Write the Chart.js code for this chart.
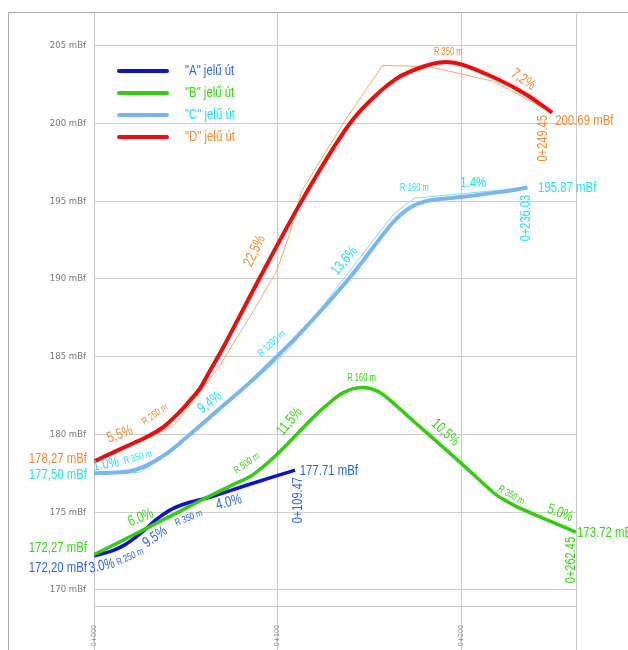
<!DOCTYPE html>
<html>
<head>
<meta charset="utf-8">
<script src="https://cdn.jsdelivr.net/npm/chart.js@4"></script>
<style>
    html, body { margin: 0; padding: 0; background: #fff; }
    #wrap { width: 628px; height: 650px; position: relative; }
</style>
</head>
<body>
<div id="wrap"><canvas id="profileChart"></canvas></div>
<script>
// stations (m) and elevations (mBf)
const stationsA = [0, 8.7, 16.8, 25, 34.2, 42.4, 52.2, 63, 84.8, 109.47];
const elevA = [172.20, 172.46, 172.90, 173.60, 174.55, 175.20, 175.64, 175.96, 176.80, 177.71];

const stationsB = [0, 30.4, 57.6, 76.6, 86.4, 99.5, 112, 119, 127.3, 136, 145.7, 154, 161.4, 171.7, 200, 217.9, 224.5, 231.5, 262.45];
const elevB = [172.27, 174.07, 175.72, 176.82, 177.40, 178.70, 180.20, 181.05, 181.95, 182.70, 183.01, 182.80, 182.18, 181.09, 178.14, 176.22, 175.72, 175.28, 173.72];

const stationsC = [0, 11.4, 19.6, 28.8, 39.7, 52.2, 68.5, 84.8, 99.5, 113.6, 139.1, 162.5, 171.7, 181, 200, 220.7, 236.03];
const elevC = [177.50, 177.56, 177.63, 178.01, 178.78, 180.00, 181.67, 183.33, 185.00, 186.67, 190.06, 193.59, 194.55, 195.00, 195.26, 195.58, 195.87];

const stationsD = [0, 15.8, 28.8, 37.5, 46.7, 52, 57.6, 62, 66.8, 71.3, 90.2, 113, 133.7, 146.2, 164.7, 182.6, 191.8, 200.5, 219, 235.3, 249.45];
const elevD = [178.27, 179.14, 179.85, 180.45, 181.45, 182.15, 182.95, 183.85, 184.85, 185.80, 190.06, 195.00, 199.04, 200.96, 202.88, 203.78, 203.95, 203.78, 202.88, 201.86, 200.69];

// thin tangent polygons
const stationsDGuide = [0, 30.4, 44, 68.5, 87.5, 99.5, 106.5, 113, 136.4, 157.1, 182.6, 217.9, 249.45];
const elevDGuide = [178.27, 179.81, 180.64, 184.42, 188.08, 190.51, 192.88, 195.64, 200.13, 203.72, 203.65, 202.69, 200.69];
const stationsCGuide = [0, 25, 35.9, 99.5, 106.5, 163.6, 174.5, 236.03];
const elevCGuide = [177.50, 177.56, 178.40, 184.74, 185.51, 194.23, 195.19, 195.87];

const seriesNames = ['"A" jelű út', '"B" jelű út', '"C" jelű út', '"D" jelű út'];
const lineColors = ['#0c14c8', '#33cc11', '#7ab6ee', '#ee0c0c'];
const textColors = ['#2a66d8', '#33d611', '#1ee3f2', '#f08a2a'];
const guideColors = ['#7fdcf5', '#f4a868'];

const yTickValues = [170, 175, 180, 185, 190, 195, 200, 205];
const xTickValues = [0, 100, 200];
const xEnd = 262.45;
const yMin = 168.97, yMax = 207.05;

// annotation texts: [text, station, elevation, rotation deg, series, kind, align]
const notes = [
    ['172,20 mBf', -3.8, 171.41, 0, 0, 'big', 'right'],
    ['3.0%', 4.3, 171.54, -12, 0, 'big'],
    ['R 250 m', 19.6, 172.12, -25, 0, 'small'],
    ['9.5%', 33.2, 173.40, -35, 0, 'big'],
    ['R 350 m', 51.6, 174.62, -22, 0, 'small'],
    ['4.0%', 73.4, 175.64, -15, 0, 'big'],
    ['177.71 mBf', 112, 177.69, 0, 0, 'big', 'left'],
    ['0+109.47', 110.9, 175.77, -90, 0, 'sta'],

    ['172,27 mBf', -3.8, 172.69, 0, 1, 'big', 'right'],
    ['6.0%', 25.5, 174.65, -22, 1, 'big'],
    ['R 500 m', 83.2, 178.14, -35, 1, 'small'],
    ['11,5%', 106.5, 180.83, -50, 1, 'big'],
    ['R 160 m', 145.7, 183.59, 0, 1, 'small'],
    ['10,5%', 191.3, 180.13, 42, 1, 'big'],
    ['R 350 m', 227.2, 176.09, 30, 1, 'small'],
    ['5.0%', 253.8, 174.94, 20, 1, 'big'],
    ['173.72 mBf', 263.0, 173.65, 0, 1, 'big', 'left'],
    ['0+262.45', 259.8, 171.92, -90, 1, 'sta'],

    ['177,50 mBf', -3.8, 177.37, 0, 2, 'big', 'right'],
    ['1.0%', 6.5, 178.08, -10, 2, 'big'],
    ['R 350 m', 23.9, 178.53, -15, 2, 'small'],
    ['9,4%', 63, 182.05, -38, 2, 'big'],
    ['R 1200 m', 96.7, 185.83, -42, 2, 'small'],
    ['13,6%', 136.4, 191.15, -50, 2, 'big'],
    ['R 160 m', 174.5, 195.83, 0, 2, 'small'],
    ['1.4%', 206.5, 196.15, 0, 2, 'big'],
    ['195.87 mBf', 241.8, 195.83, 0, 2, 'big', 'left'],
    ['0+236.03', 235.3, 193.91, -90, 2, 'sta'],

    ['178,27 mBf', -3.8, 178.46, 0, 3, 'big', 'right'],
    ['5,5%', 14.1, 180.0, -20, 3, 'big'],
    ['R 250 m', 33.2, 181.28, -35, 3, 'small'],
    ['22,5%', 87.5, 191.79, -65, 3, 'big'],
    ['R 350 m', 192.9, 204.55, 0, 3, 'small'],
    ['7,2%', 233.7, 202.82, 35, 3, 'big'],
    ['200.69 mBf', 251.1, 200.13, 0, 3, 'big', 'left'],
    ['0+249.45', 244.6, 199.04, -90, 3, 'sta'],
];

const FONT = '"Liberation Sans", Arial, sans-serif';
const NARROW = 0.76;
const sizes = { big: 15, small: 10, sta: 14.5 };

function toPoints(xs, ys) {
    return xs.map((s, i) => ({ x: s, y: ys[i] }));
}

function stationLabel(v) {
    return '0+' + String(Math.round(v)).padStart(3, '0');
}

function narrowText(ctx, text, x, y, rot, size, color, align) {
    ctx.save();
    ctx.translate(x, y);
    ctx.rotate(rot * Math.PI / 180);
    ctx.scale(NARROW, 1);
    ctx.font = size + 'px ' + FONT;
    ctx.fillStyle = color;
    ctx.textAlign = align || 'center';
    ctx.textBaseline = 'middle';
    ctx.fillText(text, 0, 0);
    ctx.restore();
}

const framePlugin = {
    id: 'frame',
    beforeDraw(chart) {
        const ctx = chart.ctx;
        ctx.save();
        ctx.strokeStyle = '#a9a9a9';
        ctx.lineWidth = 1;
        ctx.beginPath();
        ctx.moveTo(8.5, chart.height);
        ctx.lineTo(8.5, 12.5);
        ctx.lineTo(chart.width, 12.5);
        ctx.stroke();
        ctx.restore();
    }
};

const notesPlugin = {
    id: 'notes',
    afterDraw(chart) {
        const ctx = chart.ctx;
        const xs = chart.scales.x, ys = chart.scales.y;
        notes.forEach(n => {
            const [text, sx, sy, rot, s, kind, align] = n;
            narrowText(ctx, text, xs.getPixelForValue(sx), ys.getPixelForValue(sy),
                rot, sizes[kind], textColors[s], align);
        });

        // legend box
        seriesNames.forEach((name, i) => {
            const y = 71 + i * 22;
            ctx.save();
            ctx.strokeStyle = lineColors[i];
            ctx.lineWidth = 4;
            ctx.lineCap = 'round';
            ctx.beginPath();
            ctx.moveTo(119, y);
            ctx.lineTo(167, y);
            ctx.stroke();
            ctx.restore();
            narrowText(ctx, name, 185, y, 0, 15, textColors[i], 'left');
        });
    }
};

const mainLine = (i, xs, ys) => ({
    label: seriesNames[i],
    data: toPoints(xs, ys),
    borderColor: lineColors[i],
    borderWidth: i >= 2 ? 4 : 3.5,
    pointRadius: 0,
    tension: 0.35,
    fill: false,
});

const guideLine = (i, xs, ys) => ({
    label: 'guide',
    data: toPoints(xs, ys),
    borderColor: guideColors[i],
    borderWidth: 1,
    pointRadius: 0,
    tension: 0,
    fill: false,
});

const ctx = document.getElementById('profileChart').getContext('2d');
new Chart(ctx, {
    type: 'line',
    data: {
        datasets: [
            mainLine(1, stationsB, elevB),
            mainLine(0, stationsA, elevA),
            mainLine(2, stationsC, elevC),
            mainLine(3, stationsD, elevD),
            guideLine(0, stationsCGuide, elevCGuide),
            guideLine(1, stationsDGuide, elevDGuide),
        ]
    },
    options: {
        responsive: true,
        maintainAspectRatio: false,
        animation: false,
        layout: { padding: { left: 0, right: 52, top: 12, bottom: 0 } },
        plugins: {
            legend: { display: false },
            tooltip: { enabled: false },
        },
        scales: {
            x: {
                type: 'linear',
                min: 0,
                max: xEnd,
                afterBuildTicks: scale => {
                    scale.ticks = xTickValues.concat([xEnd]).map(v => ({ value: v }));
                },
                afterFit: scale => { scale.height = 44; },
                grid: { color: '#c6c6c6', lineWidth: 1, drawTicks: true, tickLength: 44 },
                border: { color: '#c6c6c6' },
                ticks: {
                    autoSkip: false,
                    minRotation: 90,
                    maxRotation: 90,
                    padding: -25,
                    color: '#8a8a8a',
                    font: { family: '"Liberation Sans Narrow", "DejaVu Sans Condensed", sans-serif', size: 7 },
                    callback: v => (v === xEnd ? '' : stationLabel(v)),
                },
            },
            y: {
                type: 'linear',
                min: yMin,
                max: yMax,
                afterBuildTicks: scale => {
                    scale.ticks = yTickValues.map(v => ({ value: v }));
                },
                afterFit: scale => { scale.width = 94; },
                grid: { color: '#cdcdcd', lineWidth: 1, drawTicks: false },
                border: { display: false },
                ticks: {
                    padding: 8,
                    color: '#777',
                    font: { family: '"Liberation Sans Narrow", "DejaVu Sans Condensed", sans-serif', size: 9.5 },
                    callback: v => v + ' mBf',
                },
            },
        },
    },
    plugins: [framePlugin, notesPlugin],
});
</script>
</body>
</html>
